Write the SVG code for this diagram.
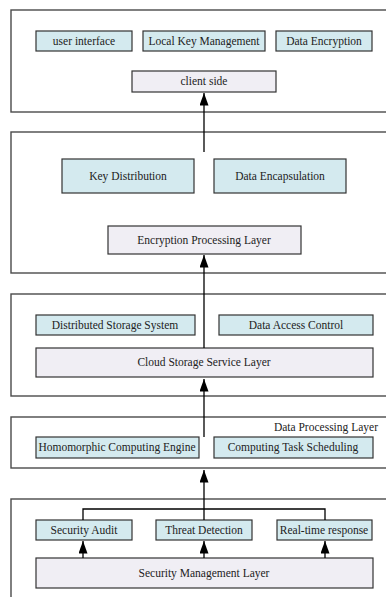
<svg xmlns="http://www.w3.org/2000/svg" width="386" height="597" viewBox="0 0 386 597">
<defs>
<marker id="ah" markerUnits="userSpaceOnUse" markerWidth="13" markerHeight="9" refX="12.5" refY="4.5" orient="auto" viewBox="0 0 13 9">
<path d="M0,0 L12.5,4.5 L0,9 Z" fill="#000"/>
</marker>
<style>
.frame{fill:#fff;stroke:#4a4a4a;stroke-width:1.4}
.sub{fill:#d4eaef;stroke:#333;stroke-width:1.2}
.main{fill:#f0eef4;stroke:#333;stroke-width:1.2}
text{font-family:"Liberation Serif","Times New Roman","DejaVu Serif",serif;font-size:11.5px;fill:#222;text-anchor:middle}
.conn line,.conn path{stroke:#000;stroke-width:1.3;fill:none}
</style>
</defs>
<rect width="386" height="597" fill="#fff"/>
<g id="frames">
<rect id="frame-client" class="frame" x="11" y="10" width="390" height="102"/>
<rect id="frame-encryption" class="frame" x="11" y="132" width="390" height="141"/>
<rect id="frame-cloud" class="frame" x="11" y="294" width="390" height="102"/>
<rect id="frame-processing" class="frame" x="11" y="417" width="390" height="51"/>
<rect id="frame-security" class="frame" x="11" y="499" width="390" height="110"/>
</g>
<g font-family="Liberation Serif, Times New Roman, serif">
<g id="user-interface"><rect class="sub" x="36" y="31" width="96" height="20"/><text x="84" y="45">user interface</text></g>
<g id="local-key-management"><rect class="sub" x="143" y="31" width="122" height="20"/><text x="204" y="45">Local Key Management</text></g>
<g id="data-encryption"><rect class="sub" x="276" y="31" width="96" height="20"/><text x="324" y="45">Data Encryption</text></g>
<g id="client-side"><rect class="main" x="132" y="71" width="144" height="21"/><text x="204" y="85">client side</text></g>
<g id="key-distribution"><rect class="sub" x="62" y="159" width="132" height="34"/><text x="128" y="180">Key Distribution</text></g>
<g id="data-encapsulation"><rect class="sub" x="214" y="159" width="132" height="34"/><text x="280" y="180">Data Encapsulation</text></g>
<g id="encryption-processing-layer"><rect class="main" x="108" y="226" width="193" height="28"/><text x="204" y="244">Encryption Processing Layer</text></g>
<g id="distributed-storage-system"><rect class="sub" x="36" y="315" width="159" height="20"/><text x="115" y="329">Distributed Storage System</text></g>
<g id="data-access-control"><rect class="sub" x="219" y="315" width="154" height="20"/><text x="296" y="329">Data Access Control</text></g>
<g id="cloud-storage-service-layer"><rect class="main" x="36" y="348" width="337" height="29"/><text x="204" y="366">Cloud Storage Service Layer</text></g>
<g id="data-processing-layer"><text x="378" y="431" style="text-anchor:end">Data Processing Layer</text></g>
<g id="homomorphic-computing-engine"><rect class="sub" x="36" y="437" width="163" height="21"/><text x="117" y="451">Homomorphic Computing Engine</text></g>
<g id="computing-task-scheduling"><rect class="sub" x="214" y="437" width="159" height="21"/><text x="293" y="451">Computing Task Scheduling</text></g>
<g id="security-audit"><rect class="sub" x="36" y="520" width="96" height="20"/><text x="84" y="534">Security Audit</text></g>
<g id="threat-detection"><rect class="sub" x="156" y="520" width="96" height="20"/><text x="204" y="534">Threat Detection</text></g>
<g id="real-time-response"><rect class="sub" x="277" y="520" width="95" height="20"/><text x="324" y="534">Real-time response</text></g>
<g id="security-management-layer"><rect class="main" x="36" y="558" width="337" height="30"/><text x="204" y="577">Security Management Layer</text></g>
</g>
<g class="conn" id="connectors">
<line x1="204" y1="152" x2="204" y2="93" marker-end="url(#ah)"/>
<line x1="204" y1="348" x2="204" y2="255" marker-end="url(#ah)"/>
<line x1="204" y1="437" x2="204" y2="379" marker-end="url(#ah)"/>
<line x1="204" y1="520" x2="204" y2="470" marker-end="url(#ah)"/>
<path d="M83,520 V509 H325 V520"/>
<line x1="83" y1="558" x2="83" y2="541" marker-end="url(#ah)"/>
<line x1="204" y1="558" x2="204" y2="541" marker-end="url(#ah)"/>
<line x1="325" y1="558" x2="325" y2="541" marker-end="url(#ah)"/>
</g>
</svg>
